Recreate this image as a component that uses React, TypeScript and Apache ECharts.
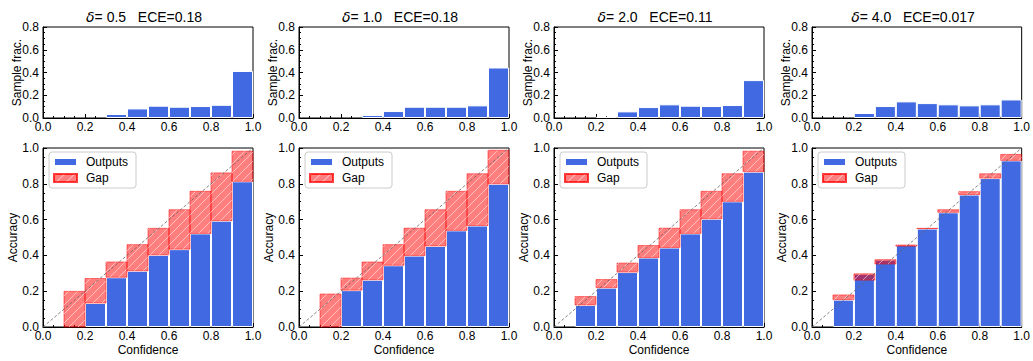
import React, { useEffect, useRef } from 'react';
import * as echarts from 'echarts';

// Bin centres (bin width 0.1)
const BIN_W = 0.1;
const binCenters = [0.05, 0.15, 0.25, 0.35, 0.45, 0.55, 0.65, 0.75, 0.85, 0.95];
const diagPoints = [[0, 0], [1, 1]];

const deltas = ['0.5', '1.0', '2.0', '4.0'];
const eces = ['0.18', '0.18', '0.11', '0.017'];

// Sample fractions per bin
const frac1 = [0, 0, 0, 0.035, 0.084, 0.108, 0.099, 0.105, 0.116, 0.413];
const frac2 = [0, 0, 0, 0.026, 0.061, 0.099, 0.099, 0.099, 0.111, 0.444];
const frac3 = [0, 0, 0.012, 0.058, 0.096, 0.12, 0.108, 0.105, 0.114, 0.333];
const frac4 = [0, 0, 0.044, 0.105, 0.146, 0.131, 0.12, 0.111, 0.12, 0.163];

// Accuracy per bin (null = empty bin)
const acc1 = [null, 0, 0.134, 0.278, 0.314, 0.403, 0.435, 0.523, 0.594, 0.814];
const acc2 = [null, 0, 0.206, 0.264, 0.345, 0.399, 0.453, 0.54, 0.567, 0.8];
const acc3 = [null, 0.123, 0.22, 0.307, 0.388, 0.444, 0.523, 0.605, 0.702, 0.868];
const acc4 = [null, 0.153, 0.297, 0.376, 0.458, 0.55, 0.641, 0.74, 0.832, 0.931];

// Mean confidence per bin
const conf1 = [null, 0.199, 0.271, 0.363, 0.46, 0.551, 0.655, 0.758, 0.861, 0.982];
const conf2 = [null, 0.184, 0.273, 0.363, 0.46, 0.552, 0.655, 0.758, 0.856, 0.987];
const conf3 = [null, 0.17, 0.265, 0.357, 0.455, 0.552, 0.655, 0.758, 0.856, 0.982];
const conf4 = [null, 0.179, 0.262, 0.352, 0.452, 0.551, 0.655, 0.756, 0.856, 0.964];

const fracs = [frac1, frac2, frac3, frac4];
const accs = [acc1, acc2, acc3, acc4];
const confs = [conf1, conf2, conf3, conf4];

const FONT = "'Liberation Sans', Arial, sans-serif";
const BLUE = '#4169E1';
const GAP = 'rgba(255,0,0,0.5)';
const HATCH = 'rgba(255,255,255,0.5)';
const HATCH_STEP = 9;

const lefts = [43, 299, 554, 812];
const W = 210;
const TOP1 = 27, H1 = 91;
const TOP2 = 148, H2 = 184;
const BARW = 21;

const hatchDecal = {
  symbol: 'rect',
  symbolSize: 1,
  dashArrayX: [1, 0],
  dashArrayY: [1, 6],
  rotation: -Math.PI / 4,
  color: HATCH,
};

function makeAxis(gridIndex: number, kind: 'x' | 'y', max: number, name: string, nameGap: number) {
  return {
    type: 'value',
    gridIndex,
    min: 0,
    max,
    interval: 0.2,
    name,
    nameLocation: 'middle',
    nameGap,
    nameMoveOverlap: false,
    nameTextStyle: { fontFamily: FONT, fontSize: 12, color: '#000' },
    axisLine: { show: true, onZero: false, lineStyle: { color: '#000', width: 1 } },
    axisTick: { show: true, inside: true, length: 4, lineStyle: { color: '#000' } },
    minorTick: { show: true, splitNumber: 4, length: 2, lineStyle: { color: '#000' } },
    splitLine: { show: false },
    axisLabel: {
      fontFamily: FONT,
      fontSize: 12,
      color: '#000',
      margin: kind === 'x' ? 3 : 4,
      formatter: (v: number) => v.toFixed(1),
      showMinLabel: true,
      showMaxLabel: true,
    },
  };
}

function gapRenderItem(params: any, api: any) {
  const c = api.value(0), a = api.value(1), f = api.value(2);
  const lo = Math.min(a, f), hi = Math.max(a, f);
  const p0 = api.coord([c - BIN_W / 2, lo]);
  const p1 = api.coord([c + BIN_W / 2, hi]);
  const x0 = p0[0], x1 = p1[0], y0 = p1[1], y1 = p0[1];
  const children: any[] = [
    {
      type: 'rect',
      shape: { x: x0, y: y0, width: x1 - x0, height: y1 - y0 },
      style: { fill: GAP, stroke: GAP, lineWidth: 1 },
    },
  ];
  // '/' hatch: lines x + y = k
  const kStart = Math.ceil((x0 + y0) / HATCH_STEP) * HATCH_STEP;
  for (let k = kStart; k <= x1 + y1; k += HATCH_STEP) {
    const xa = Math.max(x0, k - y1);
    const xb = Math.min(x1, k - y0);
    if (xb - xa > 0.5) {
      children.push({
        type: 'line',
        shape: { x1: xa, y1: k - xa, x2: xb, y2: k - xb },
        style: { stroke: HATCH, lineWidth: 1 },
      });
    }
  }
  return { type: 'group', children };
}

export default function App() {
  const ref = useRef<HTMLDivElement>(null);
  useEffect(() => {
    if (!ref.current) return;
    const chart = echarts.init(ref.current, null, { renderer: 'svg' });
    const grid: any[] = [];
    const xAxis: any[] = [];
    const yAxis: any[] = [];
    const series: any[] = [];
    const legend: any[] = [];
    const graphic: any[] = [];

    for (let p = 0; p < 4; p++) {
      const gTop = 2 * p, gBot = 2 * p + 1;
      const gridStyle = { show: true, borderColor: '#000', borderWidth: 1, containLabel: false };
      grid.push({ left: lefts[p], top: TOP1, width: W, height: H1, ...gridStyle });
      grid.push({ left: lefts[p], top: TOP2, width: W, height: H2, ...gridStyle });
      xAxis.push(makeAxis(gTop, 'x', 1, '', 0));
      xAxis.push(makeAxis(gBot, 'x', 1, 'Confidence', 17));
      yAxis.push(makeAxis(gTop, 'y', 0.8, 'Sample frac.', 20));
      yAxis.push(makeAxis(gBot, 'y', 1, 'Accuracy', 24));

      const fr = fracs[p], ac = accs[p], cf = confs[p];

      series.push({
        type: 'bar',
        name: 'frac' + p,
        xAxisIndex: gTop,
        yAxisIndex: gTop,
        barWidth: BARW,
        barGap: '-100%',
        data: binCenters.map((c, i) => [c, fr[i] > 0 ? fr[i] : '-']),
        itemStyle: { color: BLUE, borderColor: '#fff', borderWidth: 1 },
      });
      series.push({
        type: 'bar',
        name: 'Outputs',
        xAxisIndex: gBot,
        yAxisIndex: gBot,
        barWidth: BARW,
        barGap: '-100%',
        z: 2,
        data: binCenters.map((c, i) => [c, ac[i] != null && (ac[i] as number) > 0 ? ac[i] : '-']),
        itemStyle: { color: BLUE, borderColor: '#fff', borderWidth: 1 },
      });
      series.push({
        type: 'custom',
        name: 'gap' + p,
        xAxisIndex: gBot,
        yAxisIndex: gBot,
        renderItem: gapRenderItem,
        encode: { x: 0, y: [1, 2] },
        silent: true,
        z: 3,
        data: binCenters
          .map((c, i) => [c, ac[i], cf[i]])
          .filter((d) => d[1] != null),
      });
      series.push({
        type: 'line',
        name: 'diag' + p,
        xAxisIndex: gBot,
        yAxisIndex: gBot,
        data: diagPoints,
        symbol: 'none',
        z: 4,
        silent: true,
        lineStyle: { color: '#666', width: 0.8, type: [3, 2] },
      });

      legend.push({
        data: ['Outputs', 'Gap'],
        left: lefts[p] + 6,
        top: TOP2 + 4,
        z: 6,
        orient: 'vertical',
        icon: 'rect',
        itemWidth: 23,
        itemHeight: 8,
        itemGap: 4,
        padding: [4, 8, 4, 4],
        borderColor: '#ccc',
        borderWidth: 1,
        borderRadius: 3,
        backgroundColor: 'rgba(255,255,255,0.85)',
        selectedMode: false,
        textStyle: { fontFamily: FONT, fontSize: 12, color: '#000', padding: [0, 0, 0, 4] },
      });

      graphic.push({
        type: 'text',
        x: lefts[p] + W / 2 - 4,
        y: 17,
        style: {
          text: '{d|δ}{n|= ' + deltas[p] + '   ECE=' + eces[p] + '}',
          textAlign: 'center',
          textVerticalAlign: 'middle',
          rich: {
            d: { fontFamily: "'DejaVu Sans'", fontStyle: 'italic', fontSize: 14, fill: '#000' },
            n: { fontFamily: FONT, fontSize: 14, fill: '#000' },
          },
        },
      });
    }

    // Legend-only entry for the hatched gap patch (placed on a top grid, overlapping, no data)
    series.push({
      type: 'bar',
      name: 'Gap',
      xAxisIndex: 0,
      yAxisIndex: 0,
      barWidth: BARW,
      barGap: '-100%',
      data: [],
      itemStyle: { color: GAP, borderColor: GAP, borderWidth: 1, decal: hatchDecal },
    });

    chart.setOption({
      animation: false,
      backgroundColor: '#fff',
      grid,
      xAxis,
      yAxis,
      series,
      legend,
      graphic,
    });
    return () => chart.dispose();
  }, []);
  return (
    <div
      ref={ref}
      style={{ position: 'absolute', left: 0, top: 0, width: 1033, height: 361 }}
    />
  );
}
